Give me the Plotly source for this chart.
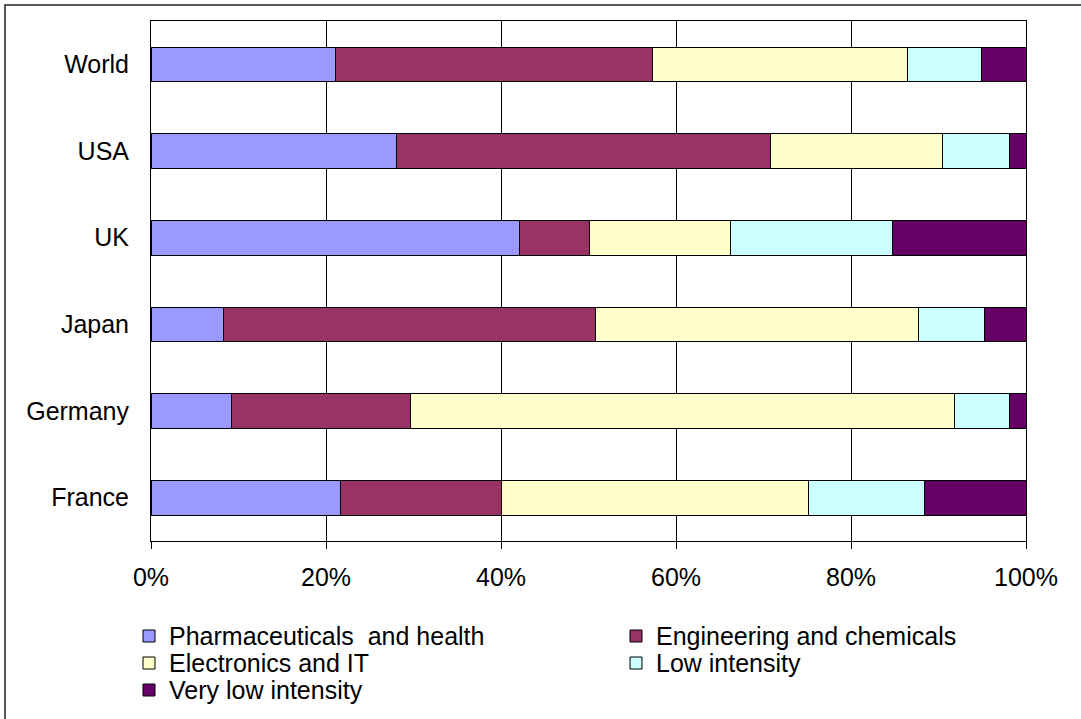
import plotly.graph_objects as go

countries = ['World', 'USA', 'UK', 'Japan', 'Germany', 'France']
sectors = ['Pharmaceuticals \u00a0and health', 'Engineering and chemicals',
           'Electronics and IT', 'Low intensity', 'Very low intensity']
colors = ['#9999FF', '#993366', '#FFFFCC', '#CCFFFF', '#660066']

pharma = [21.1, 28.0, 42.1, 8.3, 9.2, 21.7]
engineering = [36.2, 42.8, 8.0, 42.5, 20.5, 18.4]
electronics = [29.1, 19.7, 16.1, 36.9, 62.1, 35.0]
low = [8.5, 7.6, 18.5, 7.6, 6.3, 13.3]
very_low = [5.1, 1.9, 15.3, 4.7, 1.9, 11.6]
series = [pharma, engineering, electronics, low, very_low]

W, H = 1081, 719
pw, ph = 875, 520
L, T = 151, 21
R, B = W - L - pw, H - T - ph

def px_x(px):
    return (px - L) / pw

def px_y(py):
    return (T + ph - py) / ph

fig = go.Figure()
for name, vals, col in zip(sectors, series, colors):
    fig.add_trace(go.Bar(y=countries, x=vals, name=name, orientation='h',
                         marker=dict(color=col, line=dict(color='black', width=1)),
                         showlegend=False))

# legend drawn by hand so spacing matches the original
legend_cols = [143, 630]
legend_rows = [636, 663, 690]
shapes = []
annotations = []
for i, (name, col) in enumerate(zip(sectors, colors)):
    cx = legend_cols[i % 2]
    cy = legend_rows[i // 2]
    shapes.append(dict(type='rect', xref='paper', yref='paper',
                       x0=px_x(cx), x1=px_x(cx + 12), y0=px_y(cy - 6), y1=px_y(cy + 6),
                       fillcolor=col, line=dict(color='black', width=1)))
    annotations.append(dict(text=name, xref='paper', yref='paper',
                            x=px_x(cx + 24), y=px_y(cy), xanchor='left', yanchor='middle',
                            showarrow=False, font=dict(size=25, color='black')))

# outer chart frame
shapes.append(dict(type='rect', xref='paper', yref='paper',
                   x0=px_x(5), x1=px_x(1095), y0=px_y(735), y1=px_y(5),
                   line=dict(color='#222222', width=1.5), layer='below'))

fig.update_layout(
    width=W, height=H,
    margin=dict(l=L, r=R, t=T, b=B),
    barmode='stack', barnorm='percent', bargap=0.6,
    plot_bgcolor='white', paper_bgcolor='white',
    font=dict(family='Liberation Sans, Arial, sans-serif', size=25, color='black'),
    shapes=shapes, annotations=annotations,
    xaxis=dict(range=[0, 100], dtick=20, ticksuffix='%', showgrid=True,
               gridcolor='black', gridwidth=1, zeroline=False,
               showline=True, linecolor='black', linewidth=1, mirror=True,
               ticks='outside', ticklen=7, tickcolor='black', ticklabelstandoff=7),
    yaxis=dict(autorange='reversed', showgrid=False, showline=True, linecolor='black',
               linewidth=1, mirror=True, ticks='', ticklabelstandoff=16),
)

fig.write_html('out.html', config={'displayModeBar': False},
               post_script="document.body.style.margin='0';")
